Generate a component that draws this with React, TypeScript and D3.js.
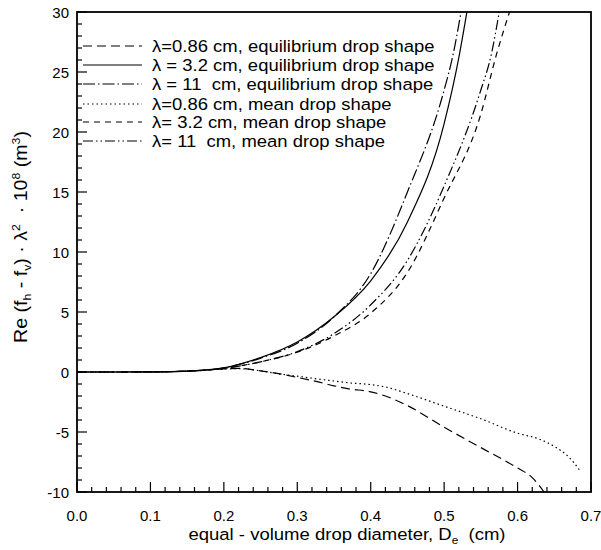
import React from "react";
import * as d3 from "d3";

// ---- data ----
const xTicks = [0, 0.1, 0.2, 0.3, 0.4, 0.5, 0.6, 0.7];
const yTicks = [-10, -5, 0, 5, 10, 15, 20, 25, 30];

const eq086D = [0, 0.05, 0.1, 0.15, 0.2, 0.22, 0.25, 0.28, 0.3, 0.33, 0.35, 0.37, 0.4, 0.42, 0.45, 0.5, 0.55, 0.6, 0.62, 0.636];
const eq086V = [0, 0, 0.01, 0.07, 0.25, 0.3, 0.1, -0.2, -0.45, -0.85, -1.15, -1.4, -1.65, -2.0, -2.8, -4.6, -6.3, -8.0, -8.8, -10];

const eq32D = [0, 0.05, 0.1, 0.15, 0.2, 0.25, 0.3, 0.35, 0.4, 0.45, 0.5, 0.52, 0.531];
const eq32V = [0, 0, 0.01, 0.08, 0.35, 1.2, 2.5, 4.6, 7.6, 12.5, 20.7, 26.2, 30];

const eq11D = [0, 0.05, 0.1, 0.15, 0.2, 0.25, 0.3, 0.35, 0.4, 0.45, 0.5, 0.512, 0.523];
const eq11V = [0, 0, 0.01, 0.08, 0.35, 1.15, 2.4, 4.6, 8.2, 15.0, 23.5, 26.4, 30];

const mean086D = [0, 0.05, 0.1, 0.15, 0.2, 0.22, 0.25, 0.28, 0.3, 0.33, 0.35, 0.37, 0.4, 0.42, 0.45, 0.5, 0.55, 0.6, 0.63, 0.65, 0.67, 0.686];
const mean086V = [0, 0, 0.01, 0.07, 0.25, 0.28, 0.1, -0.2, -0.35, -0.6, -0.75, -0.9, -1.05, -1.25, -1.8, -2.85, -3.9, -5.1, -5.6, -6.2, -7.1, -8.3];

const mean32D = [0, 0.05, 0.1, 0.15, 0.2, 0.25, 0.3, 0.35, 0.4, 0.45, 0.5, 0.55, 0.571, 0.589];
const mean32V = [0, 0, 0.01, 0.07, 0.3, 0.85, 1.65, 3.0, 4.9, 8.3, 14.5, 21.5, 26.4, 30];

const mean11D = [0, 0.05, 0.1, 0.15, 0.2, 0.25, 0.3, 0.35, 0.4, 0.45, 0.5, 0.55, 0.564, 0.575];
const mean11V = [0, 0, 0.01, 0.07, 0.3, 0.85, 1.7, 3.2, 5.6, 9.3, 15.5, 23.5, 26.4, 30];

const legendLabels = [
  "λ=0.86 cm, equilibrium drop shape",
  "λ = 3.2 cm, equilibrium drop shape",
  "λ = 11  cm, equilibrium drop shape",
  "λ=0.86 cm, mean drop shape",
  "λ= 3.2 cm, mean drop shape",
  "λ= 11  cm, mean drop shape",
];

const series = [
  { D: eq086D, V: eq086V, dash: "9,5" },
  { D: eq32D, V: eq32V, dash: "" },
  { D: eq11D, V: eq11V, dash: "12,3,1.5,3" },
  { D: mean086D, V: mean086V, dash: "1.5,3" },
  { D: mean32D, V: mean32V, dash: "6,5" },
  { D: mean11D, V: mean11V, dash: "10,3,1.5,3,1.5,3" },
];

const W = 601;
const H = 550;
const left = 77, right = 591, top = 12, bottom = 492;

export default function App() {
  const x = d3.scaleLinear().domain([0, 0.7]).range([left, right]);
  const y = d3.scaleLinear().domain([-10, 30]).range([bottom, top]);
  const line = d3
    .line<[number, number]>()
    .x((d) => x(d[0]))
    .y((d) => y(d[1]))
    .curve(d3.curveMonotoneX);

  const xMinor = d3.range(0, 0.7001, 0.02);
  const yMinor = d3.range(-10, 30.001, 1);
  const font = "'Liberation Sans', Arial, Helvetica, sans-serif";

  const legendY = [46, 65, 84, 104, 122, 141];

  return (
    <svg
      width={W}
      height={H}
      viewBox={`0 0 ${W} ${H}`}
      style={{ position: "absolute", left: 0, top: 0, background: "#fff" }}
      fontFamily={font}
    >
      <defs>
        <clipPath id="plot">
          <rect x={left} y={top} width={right - left} height={bottom - top} />
        </clipPath>
      </defs>
      <rect x={0} y={0} width={W} height={H} fill="#fff" />

      {/* ticks */}
      {xMinor.map((v, i) => {
        const major = i % 5 === 0;
        return (
          <line key={"xm" + i} x1={x(v)} x2={x(v)} y1={bottom} y2={bottom - (major ? 10 : 5)} stroke="#000" strokeWidth={1.2} />
        );
      })}
      {yMinor.map((v, i) => {
        const major = Math.round(v) % 5 === 0;
        return (
          <line key={"ym" + i} x1={left} x2={left + (major ? 10 : 5)} y1={y(v)} y2={y(v)} stroke="#000" strokeWidth={1.2} />
        );
      })}

      {/* frame */}
      <rect x={left} y={top} width={right - left} height={bottom - top} fill="none" stroke="#000" strokeWidth={1.8} />

      {/* tick labels */}
      {xTicks.map((v) => (
        <text key={"xl" + v} x={x(v)} y={521} textAnchor="middle" fontSize={15}>
          {v.toFixed(1)}
        </text>
      ))}
      {yTicks.map((v) => (
        <text key={"yl" + v} x={69} y={y(v) + 5.5} textAnchor="end" fontSize={15}>
          {v}
        </text>
      ))}

      {/* curves */}
      <g clipPath="url(#plot)">
        {series.map((s, i) => (
          <path
            key={"s" + i}
            d={line(s.D.map((d, j) => [d, s.V[j]] as [number, number])) || ""}
            fill="none"
            stroke="#000"
            strokeWidth={1.2}
            strokeDasharray={s.dash || undefined}
          />
        ))}
      </g>

      {/* legend */}
      {series.map((s, i) => (
        <g key={"lg" + i}>
          <line x1={83} x2={142} y1={legendY[i]} y2={legendY[i]} stroke="#000" strokeWidth={1.2} strokeDasharray={s.dash || undefined} />
          <g transform={`translate(152, ${legendY[i] + 6}) scale(1.086, 1)`}>
            <text x={0} y={0} fontSize={17} style={{ whiteSpace: "pre" }}>
              {legendLabels[i]}
            </text>
          </g>
        </g>
      ))}

      {/* x title */}
      <g transform="translate(347, 540) scale(1.07, 1)">
        <text x={0} y={0} textAnchor="middle" fontSize={17.3} style={{ whiteSpace: "pre" }}>
          equal - volume drop diameter, D
          <tspan fontSize={11} dy={4}>e</tspan>
          <tspan dy={-4}>{"  (cm)"}</tspan>
        </text>
      </g>

      {/* y title */}
      <g transform="translate(27, 237) rotate(-90) scale(1.12, 1)">
        <text x={0} y={0} textAnchor="middle" fontSize={17.5} style={{ whiteSpace: "pre" }}>
          Re (f
          <tspan fontSize={11} dy={4}>h</tspan>
          <tspan dy={-4}>{" - f"}</tspan>
          <tspan fontSize={11} dy={4}>v</tspan>
          <tspan dy={-4}>{") · λ"}</tspan>
          <tspan fontSize={11} dy={-7}>2</tspan>
          <tspan dy={7}>{"  · 10"}</tspan>
          <tspan fontSize={11} dy={-7}>8</tspan>
          <tspan dy={7}>{" (m"}</tspan>
          <tspan fontSize={11} dy={-7}>3</tspan>
          <tspan dy={7}>)</tspan>
        </text>
      </g>
    </svg>
  );
}
